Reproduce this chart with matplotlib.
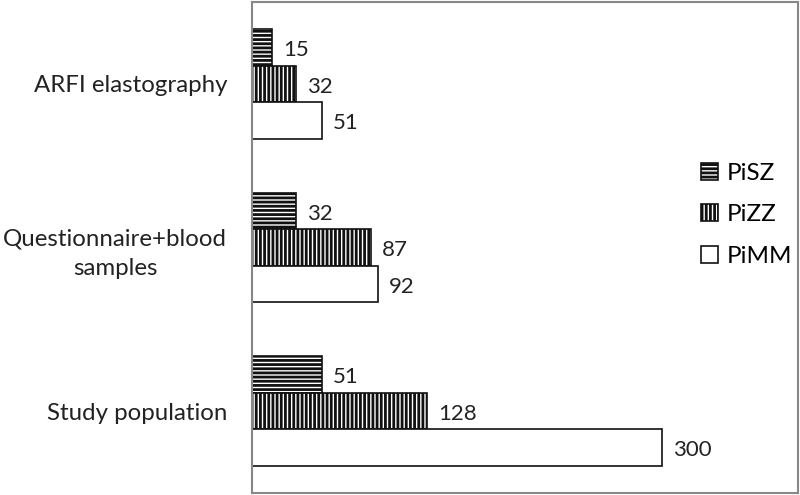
import numpy as np
import matplotlib
matplotlib.use("Agg")
import matplotlib.pyplot as plt

plt.rcParams['font.family'] = ['Lato', 'DejaVu Sans']
plt.rcParams['hatch.linewidth'] = 2.0

categories = ["Study population", "Questionnaire+blood\nsamples", "ARFI elastography"]
series = ["PiSZ", "PiZZ", "PiMM"]
pisz = [51, 32, 15]
pizz = [128, 87, 32]
pimm = [300, 92, 51]

fig = plt.figure(figsize=(8, 4.95), dpi=100)
ax = fig.add_axes([0.315, 0.004, 0.6825, 0.992])

y = np.arange(len(categories))
h = 0.223
edge = "#111111"
styles = [(pisz, h, "----"), (pizz, 0, "||||"), (pimm, -h, "")]
for name, (vals, off, hatch) in zip(series, styles):
    bars = ax.barh(y + off, vals, height=h, color="white", edgecolor=edge,
                   linewidth=1.2, hatch=hatch, label=name)
    for b, v in zip(bars, vals):
        ax.annotate(str(v), (b.get_width(), b.get_y() + b.get_height() / 2),
                    xytext=(8, -2), textcoords="offset points",
                    ha="left", va="center", fontsize=16, color="#222222")

ax.set_xlim(0, 400)
ax.set_ylim(-0.5, 2.5)
ax.set_yticks(y)
ax.set_yticklabels(categories, fontsize=17.3, color="#222222",
                   multialignment="center", linespacing=1.5)
ax.tick_params(axis="y", length=0, pad=18)
ax.set_xticks([])
for s in ax.spines.values():
    s.set_color("#888888")
    s.set_linewidth(1.5)

ax.legend(loc="center left", bbox_to_anchor=(0.876, 0.566),
          bbox_transform=fig.transFigure, frameon=False, fontsize=17.5,
          handlelength=0.7, handleheight=0.7, handletextpad=0.35,
          labelspacing=0.85, borderaxespad=0, borderpad=0)

fig.savefig("out.png", dpi=100)
